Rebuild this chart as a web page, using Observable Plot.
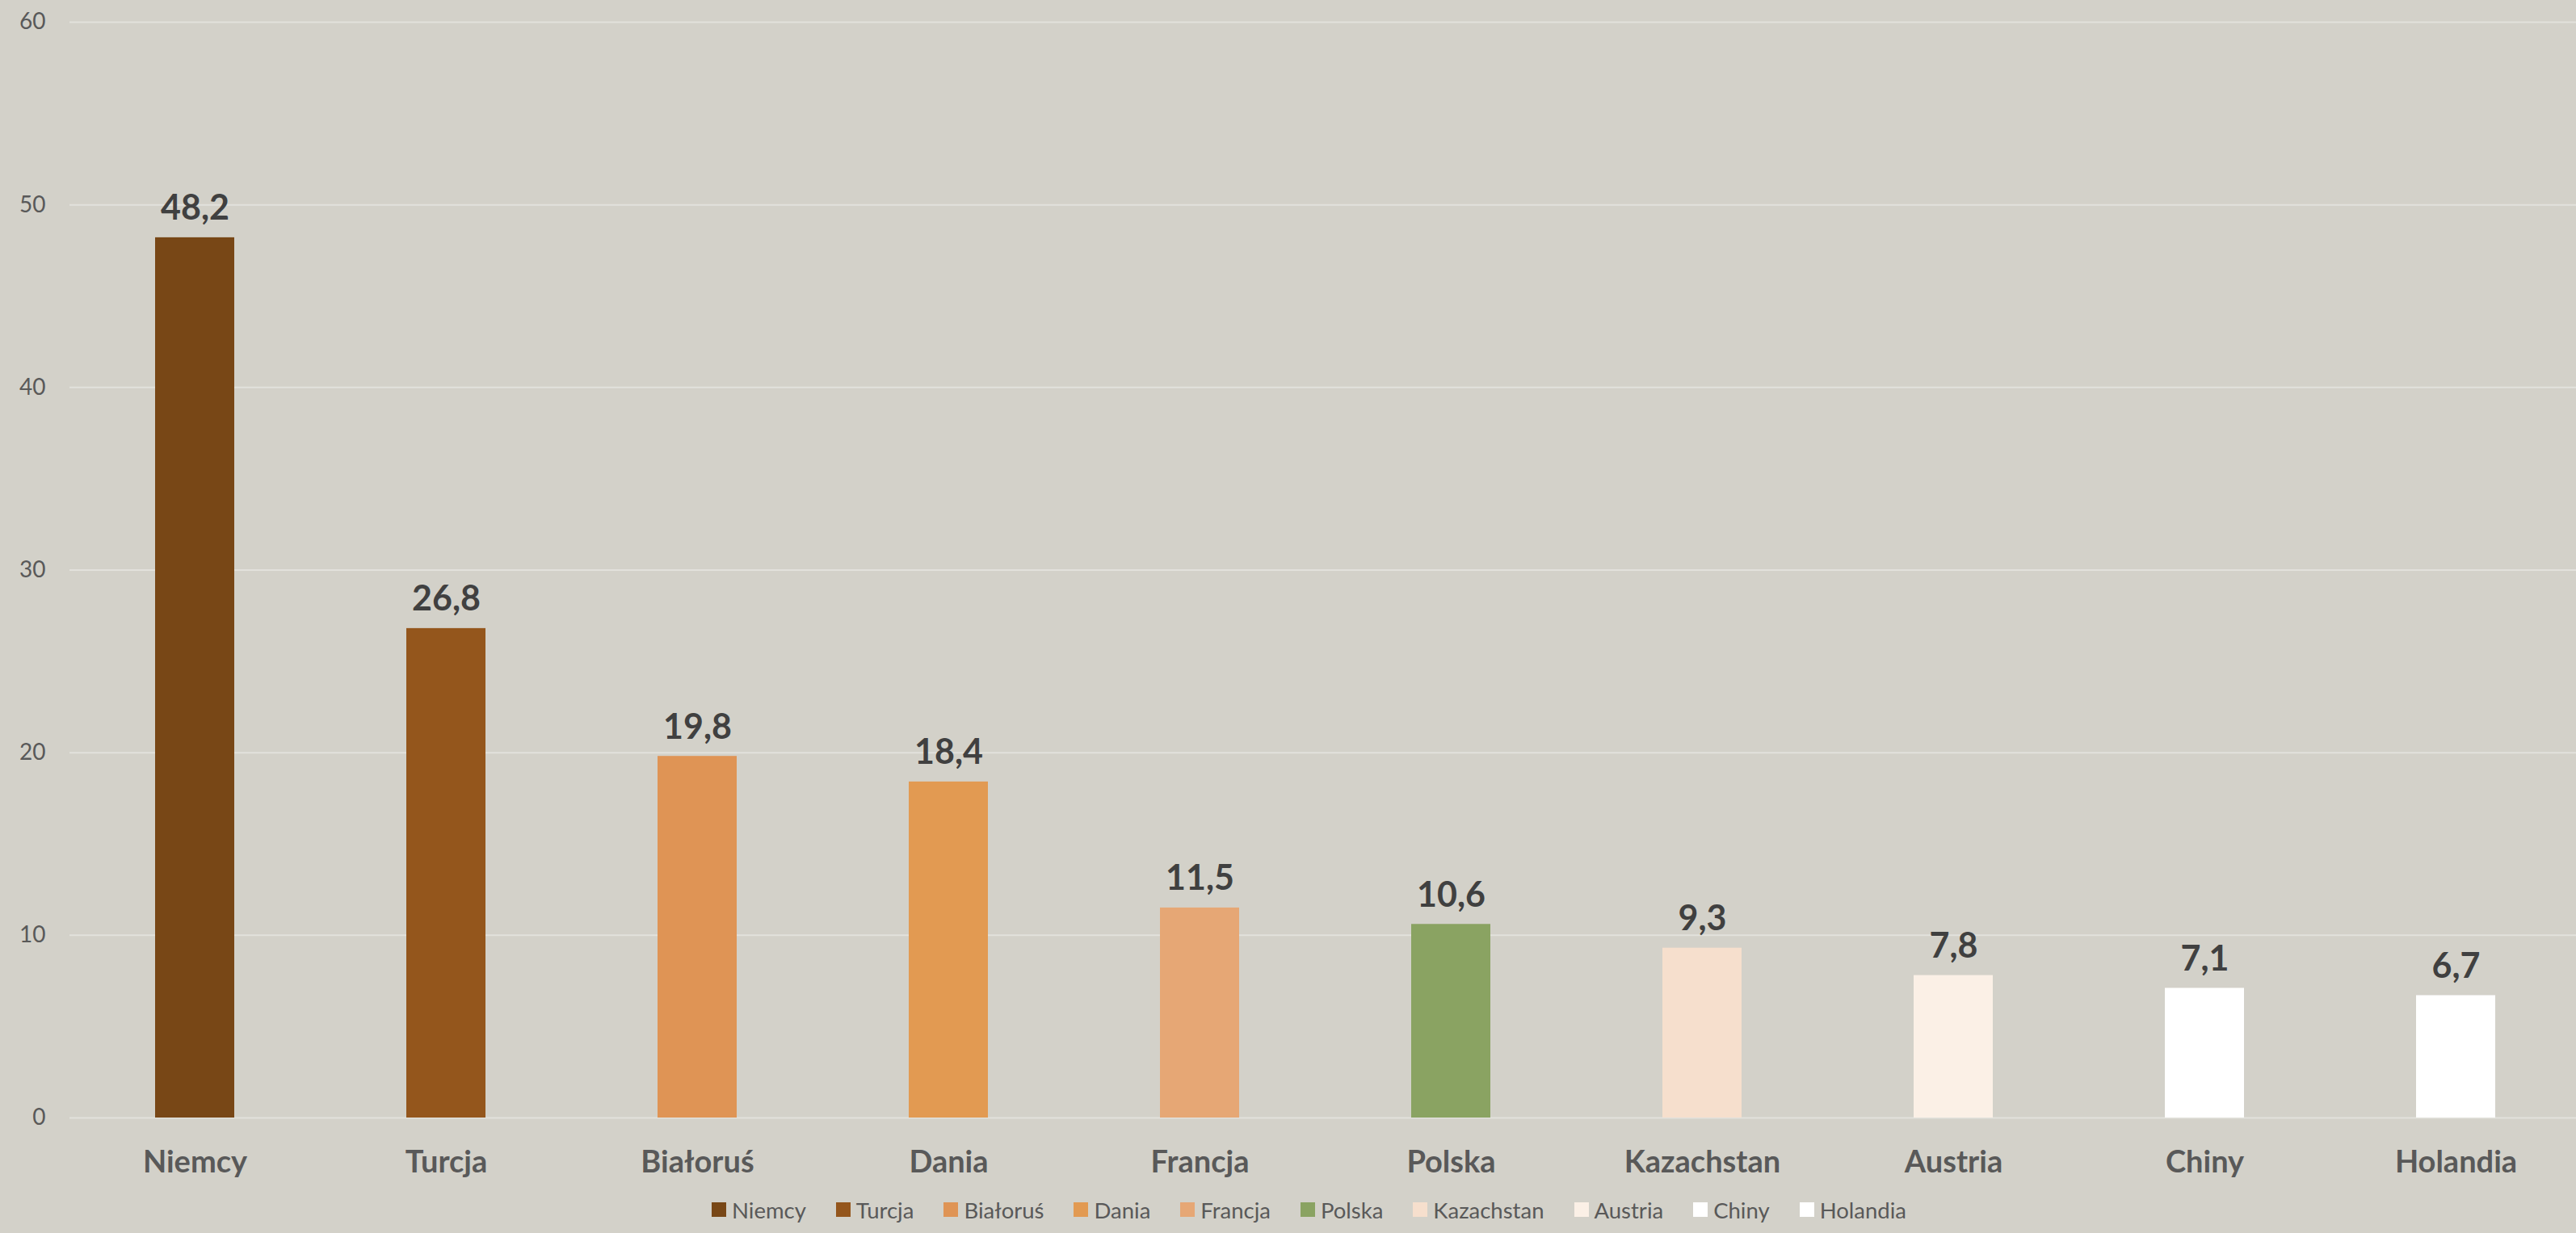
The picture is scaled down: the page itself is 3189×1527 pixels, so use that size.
<!DOCTYPE html>
<html>
<head>
<meta charset="utf-8">
<script src="https://cdn.jsdelivr.net/npm/d3@7"></script>
<script src="https://cdn.jsdelivr.net/npm/@observablehq/plot@0.6"></script>
<style>
html, body { margin: 0; padding: 0; width: 3189px; height: 1527px; overflow: hidden;
  background: #d3d1c9; font-family: Lato, "Open Sans", sans-serif; }
#chart svg { display: block; }
#legend { height: 47px; display: flex; justify-content: center; align-items: flex-start;
  padding-left: 52px; box-sizing: border-box; }
.item { display: flex; align-items: center; margin: 0 18.5px; height: 36px; }
.sw { width: 18px; height: 18px; margin-right: 7px; }
.lb { font-size: 27.5px; color: #595959; }
</style>
</head>
<body>
<div id="chart"></div>
<div id="legend"></div>
<script>
const countries = ["Niemcy", "Turcja", "Białoruś", "Dania", "Francja", "Polska", "Kazachstan", "Austria", "Chiny", "Holandia"];
const values = [48.2, 26.8, 19.8, 18.4, 11.5, 10.6, 9.3, 7.8, 7.1, 6.7];
const colors = ["#784716", "#94561c", "#df9455", "#e29a52", "#e6a775", "#8aa362", "#f6dfcd", "#fbf0e6", "#ffffff", "#ffffff"];
const yTicks = [0, 10, 20, 30, 40, 50, 60];

const data = countries.map((c, i) => ({country: c, value: values[i]}));
const fmt = v => v.toFixed(1).replace(".", ",");

const chart = Plot.plot({
  width: 3189,
  height: 1480,
  marginTop: 27,
  marginBottom: 96,
  marginLeft: 86,
  marginRight: 0,
  style: {background: "transparent", fontFamily: "Lato, 'Open Sans', sans-serif"},
  x: {domain: countries, range: [84.4, 3196.6], paddingInner: 0.685, paddingOuter: 0.3425, label: null},
  y: {domain: [0, 60], ticks: yTicks, label: null},
  color: {domain: countries, range: colors},
  marks: [
    Plot.ruleY(yTicks, {stroke: "#e2e1dc", strokeWidth: 2}),
    Plot.barY(data, {x: "country", y: "value", fill: "country"}),
    Plot.text(data, {x: "country", y: "value", text: d => fmt(d.value), dy: -22, lineAnchor: "bottom",
      fontSize: 43, fontWeight: "bold", fill: "#404040"}),
    Plot.axisX({tickSize: 0, tickPadding: 41, fontSize: 38, fontWeight: "bold", color: "#595959", label: null}),
    Plot.axisY({ticks: yTicks, tickSize: 0, tickPadding: 30, fontSize: 28, color: "#595959", label: null})
  ]
});
document.getElementById("chart").appendChild(chart);

const legend = d3.select("#legend");
countries.forEach((c, i) => {
  const it = legend.append("div").attr("class", "item");
  it.append("div").attr("class", "sw").style("background", colors[i]);
  it.append("div").attr("class", "lb").text(c);
});
</script>
</body>
</html>
